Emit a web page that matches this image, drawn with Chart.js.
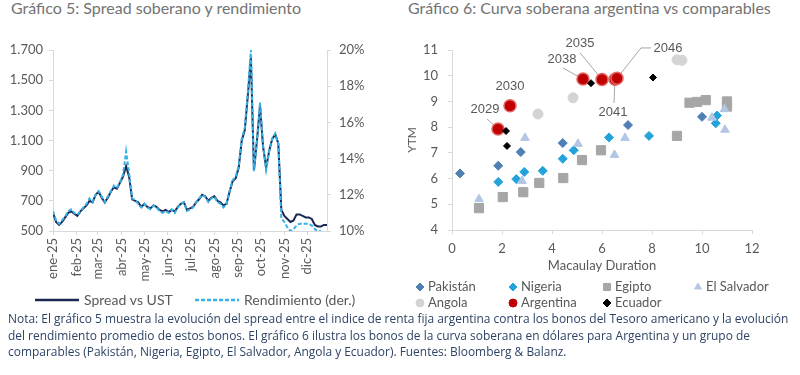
<!DOCTYPE html>
<html lang="es">
<head>
<meta charset="utf-8">
<script src="https://cdn.jsdelivr.net/npm/chart.js@4.4.1/dist/chart.umd.min.js"></script>
<style>
  html, body { margin: 0; padding: 0; background: #fff; }
  body { width: 800px; height: 375px; position: relative; overflow: hidden; font-family: Lato, sans-serif; }
  .titulo { position: absolute; top: -1px; font-size: 16px; line-height: 18px; color: #737373; white-space: nowrap; }
  #t5 { left: 11px; }
  #t6 { left: 408px; }
  canvas { position: absolute; top: 0; }
  #c5 { left: 0; }
  #c6 { left: 400px; }
  #nota { position: absolute; left: 8px; top: 311px; z-index: 2; font-family: "Open Sans", sans-serif;
          font-size: 12.5px; line-height: 16.5px; color: #2e4466; }
  #nota span { display: block; width: max-content; white-space: nowrap; transform-origin: 0 0; }
</style>
</head>
<body>
<div class="titulo" id="t5">Gráfico 5: Spread soberano y rendimiento</div>
<div class="titulo" id="t6">Gráfico 6: Curva soberana argentina vs comparables</div>
<canvas id="c5" width="400" height="320"></canvas>
<canvas id="c6" width="400" height="320"></canvas>
<div id="nota">
  <span>Nota: El gráfico 5 muestra la evolución del spread entre el indice de renta fija argentina contra los bonos del Tesoro americano y la evolución</span>
  <span>del rendimiento promedio de estos bonos. El gráfico 6 ilustra los bonos de la curva soberana en dólares para Argentina y un grupo de</span>
  <span>comparables (Pakistán, Nigeria, Egipto, El Salvador, Angola y Ecuador). Fuentes: Bloomberg &amp; Balanz.</span>
</div>
<script>
// ---- Gráfico 5: datos (día del año 2025) ----
const dias = [0, 4, 8, 12, 16, 20, 24, 28, 32, 36, 40, 44, 48, 52, 56, 60, 64, 68, 72, 76,
  80, 84, 88, 92, 96, 100, 104, 108, 112, 116, 120, 124, 128, 132, 136, 140, 144, 148, 152, 156,
  160, 164, 168, 172, 176, 180, 184, 188, 192, 196, 200, 204, 208, 212, 216, 220, 224, 228, 232, 236,
  240, 244, 248, 252, 256, 260, 264, 268, 272, 276, 280, 284, 288, 292, 296, 300, 304, 308, 312, 316,
  320, 324, 328, 332, 336, 340, 344, 348, 352, 356, 360];
const spread = [620, 560, 540, 560, 590, 620, 630, 615, 600, 630, 650, 670, 700, 690, 740, 760, 720, 690, 720, 760,
  790, 780, 820, 860, 930, 860, 710, 700, 690, 660, 680, 660, 650, 670, 660, 640, 630, 640, 625, 640,
  630, 660, 680, 690, 640, 650, 660, 690, 710, 740, 730, 700, 720, 730, 700, 690, 670, 680, 760, 830,
  850, 920, 1100, 1170, 1400, 1650, 900, 1100, 1330, 1060, 920, 1030, 1110, 1140, 1080, 640, 600, 580, 560, 570,
  610, 610, 600, 590, 590, 580, 540, 530, 530, 540, 540];
const rendimiento = [11.1, 10.6, 10.4, 10.6, 10.8, 11.1, 11.2, 11.0, 10.9, 11.1, 11.3, 11.5, 11.8, 11.6, 12.0, 12.2, 11.9, 11.6, 11.9, 12.2,
  12.5, 12.4, 12.7, 13.1, 14.4, 13.2, 11.8, 11.7, 11.5, 11.3, 11.5, 11.3, 11.2, 11.4, 11.3, 11.1, 11.0, 11.1, 11.0, 11.2,
  11.0, 11.3, 11.5, 11.6, 11.1, 11.2, 11.3, 11.6, 11.8, 12.0, 11.9, 11.6, 11.8, 11.9, 11.6, 11.5, 11.3, 11.5, 12.2, 12.8,
  13.0, 13.6, 15.1, 15.7, 17.7, 20.0, 13.3, 15.0, 17.1, 14.7, 13.4, 14.4, 15.1, 15.4, 14.8, 10.7, 10.5, 10.2, 10.0, 10.1,
  10.3, 10.4, 10.4, 10.4, 10.4, 10.3, 10.1, 10.0, 10.0, null, null];
const inicioMes = [0, 31, 59, 90, 120, 151, 181, 212, 243, 273, 304, 334];
const meses = ['ene-25', 'feb-25', 'mar-25', 'abr-25', 'may-25', 'jun-25', 'jul-25', 'ago-25', 'sep-25', 'oct-25', 'nov-25', 'dic-25'];

// ---- Gráfico 6: duration (x) e YTM (y) ----
const pakistanX = [0.32, 1.85, 2.75, 4.43, 7.04, 10.0];
const pakistanY = [6.2, 6.5, 7.03, 7.38, 8.08, 8.4];
const nigeriaX = [1.85, 2.57, 2.89, 3.63, 4.43, 4.87, 6.28, 7.88, 10.6, 10.55];
const nigeriaY = [5.87, 5.98, 6.26, 6.3, 6.77, 7.1, 7.6, 7.66, 8.45, 8.15];
const egiptoX = [1.08, 2.03, 2.85, 3.49, 4.45, 5.2, 5.96, 9.0, 9.5, 9.8, 10.15, 11.0, 11.0];
const egiptoY = [4.85, 5.28, 5.47, 5.83, 6.02, 6.72, 7.1, 7.66, 8.95, 8.98, 9.05, 9.0, 8.8];
const salvadorX = [1.08, 2.8, 2.92, 5.04, 6.5, 6.92, 10.4, 10.92, 10.9];
const salvadorY = [5.2, 5.91, 7.58, 7.35, 6.92, 7.58, 8.37, 7.9, 8.7];
const angolaX = [3.44, 4.84, 9.0, 9.2];
const angolaY = [8.51, 9.14, 10.62, 10.6];
const argentinaX = [1.84, 2.32, 5.24, 6.0, 6.52, 6.6];
const argentinaY = [7.93, 8.83, 9.87, 9.85, 9.86, 9.9];
const argentinaBono = ['2029', '2030', '2038', '2035', '2041', '2046'];
const ecuadorX = [2.16, 2.2, 5.56, 8.04];
const ecuadorY = [7.85, 7.27, 9.71, 9.93];
// posición de cada etiqueta de bono (en unidades del gráfico)
const etiquetaX = [1.32, 2.32, 4.40, 5.12, 6.44, 8.64];
const etiquetaY = [8.67, 9.60, 10.65, 11.24, 8.59, 11.08];

const gris = '#595959';
const ejes = '#d9d9d9';

function miles(v) {
  return v >= 1000 ? Math.floor(v / 1000) + '.' + String(v % 1000).padStart(3, '0') : String(v);
}
function puntos(xs, ys) {
  return xs.map((x, i) => ({ x: x, y: ys[i] }));
}

// leyenda del gráfico 5 (muestra de línea + texto)
const leyenda5Pos = [[35, 300], [195, 300]];
const leyenda5 = {
  id: 'leyenda5',
  afterDraw(chart) {
    const { ctx } = chart;
    ctx.save();
    ctx.font = '14px Lato';
    ctx.textBaseline = 'middle';
    chart.data.datasets.forEach((ds, i) => {
      const [x, y] = leyenda5Pos[i];
      ctx.strokeStyle = ds.borderColor;
      ctx.lineWidth = ds.borderWidth + 0.5;
      ctx.setLineDash(ds.borderDash || []);
      ctx.beginPath();
      ctx.moveTo(x, y);
      ctx.lineTo(x + 44, y);
      ctx.stroke();
      ctx.fillStyle = gris;
      ctx.fillText(ds.label, x + 49, y);
    });
    ctx.restore();
  },
};

new Chart(document.getElementById('c5'), {
  type: 'line',
  data: {
    datasets: [
      {
        label: 'Spread vs UST',
        data: puntos(dias, spread),
        yAxisID: 'y',
        borderColor: '#1c2653',
        borderWidth: 2,
        pointRadius: 0,
        tension: 0,
        order: 1,
      },
      {
        label: 'Rendimiento (der.)',
        data: puntos(dias, rendimiento),
        yAxisID: 'y2',
        borderColor: '#35b3e6',
        borderWidth: 2,
        borderDash: [4, 2],
        pointRadius: 0,
        tension: 0,
        order: 0,
      },
    ],
  },
  plugins: [leyenda5],
  options: {
    responsive: false,
    animation: false,
    layout: { padding: { top: 50, left: 0, right: 0, bottom: 37 } },
    plugins: { legend: { display: false }, tooltip: { enabled: false } },
    scales: {
      x: {
        type: 'linear',
        min: 0,
        max: 360,
        afterBuildTicks: (s) => { s.ticks = inicioMes.map((v) => ({ value: v })); },
        afterFit: (s) => { s.height = 52; },
        ticks: {
          autoSkip: false,
          minRotation: 90,
          maxRotation: 90,
          padding: 3,
          color: gris,
          font: { family: 'Lato', size: 13 },
          callback: (v) => meses[inicioMes.indexOf(v)],
        },
        grid: { drawOnChartArea: false, tickLength: 4, color: ejes },
        border: { color: ejes },
      },
      y: {
        position: 'left',
        min: 500,
        max: 1700,
        afterFit: (s) => { s.width = 53; },
        ticks: { stepSize: 200, padding: 6, color: gris, font: { family: 'Lato', size: 13 }, callback: (v) => miles(v) },
        grid: { drawOnChartArea: false, tickLength: 4, color: ejes },
        border: { color: ejes },
      },
      y2: {
        position: 'right',
        min: 10,
        max: 20,
        afterFit: (s) => { s.width = 73; },
        ticks: { stepSize: 2, padding: 8, color: gris, font: { family: 'Lato', size: 13 }, callback: (v) => v + '%' },
        grid: { drawOnChartArea: false, tickLength: 4, color: ejes },
        border: { color: ejes },
      },
    },
  },
});

// lineas guía de las etiquetas (desplazamientos en px desde la etiqueta)
const guias = {
  '2029': [[2, 9]],
  '2038': [[1, 9]],
  '2035': [[0, 9]],
  '2041': [[1, -9]],
  '2046': [[-17, 0], [-27, 0]],
};

const leyenda6 = [
  { texto: 'Pakistán', ds: 0, col: 0, fila: 0 },
  { texto: 'Nigeria', ds: 1, col: 1, fila: 0 },
  { texto: 'Egipto', ds: 2, col: 2, fila: 0 },
  { texto: 'El Salvador', ds: 3, col: 3, fila: 0 },
  { texto: 'Angola', ds: 4, col: 0, fila: 1 },
  { texto: 'Argentina', ds: 5, col: 1, fila: 1 },
  { texto: 'Ecuador', ds: 6, col: 2, fila: 1 },
];
const leyendaCol = [20, 113, 207, 298];
const leyendaFila = [287, 303];

const etiquetasBonos = {
  id: 'etiquetasBonos',
  beforeDatasetsDraw(chart) {
    const { ctx, scales } = chart;
    ctx.save();
    ctx.strokeStyle = '#a6a6a6';
    ctx.lineWidth = 1;
    argentinaBono.forEach((b, i) => {
      if (!guias[b]) return;
      const lx = scales.x.getPixelForValue(etiquetaX[i]);
      const ly = scales.y.getPixelForValue(etiquetaY[i]);
      ctx.beginPath();
      guias[b].forEach(([dx, dy], k) => {
        if (k === 0) ctx.moveTo(lx + dx, ly + dy);
        else ctx.lineTo(lx + dx, ly + dy);
      });
      ctx.lineTo(scales.x.getPixelForValue(argentinaX[i]), scales.y.getPixelForValue(argentinaY[i]));
      ctx.stroke();
    });
    ctx.restore();
  },
  afterDatasetsDraw(chart) {
    const { ctx, scales } = chart;
    ctx.save();
    ctx.font = '13px Arial, "Liberation Sans"';
    ctx.fillStyle = gris;
    ctx.textAlign = 'center';
    ctx.textBaseline = 'middle';
    argentinaBono.forEach((b, i) => {
      ctx.fillText(b, scales.x.getPixelForValue(etiquetaX[i]), scales.y.getPixelForValue(etiquetaY[i]));
    });
    ctx.restore();
  },
  afterDraw(chart) {
    const { ctx } = chart;
    ctx.save();
    ctx.font = '13px Lato';
    ctx.textBaseline = 'middle';
    leyenda6.forEach((it) => {
      const ds = chart.data.datasets[it.ds];
      const x = leyendaCol[it.col];
      const y = leyendaFila[it.fila];
      ctx.fillStyle = ds.backgroundColor;
      ctx.strokeStyle = ds.backgroundColor;
      Chart.helpers.drawPoint(ctx, { pointStyle: ds.pointStyle, radius: ds.pointStyle === 'rect' ? 5 : 4, rotation: 0, borderWidth: 1 }, x, y);
      ctx.fillStyle = gris;
      ctx.fillText(it.texto, x + 8, y);
    });
    ctx.restore();
  },
};

function serie(label, xs, ys, estilo, radio, color, orden, borde, anchoBorde) {
  return {
    label: label,
    data: puntos(xs, ys),
    pointStyle: estilo,
    pointRadius: radio,
    backgroundColor: color,
    borderColor: borde || color,
    borderWidth: anchoBorde || 1,
    order: orden,
  };
}

new Chart(document.getElementById('c6'), {
  type: 'scatter',
  data: {
    datasets: [
      serie('Pakistán', pakistanX, pakistanY, 'rectRot', 4.5, '#4f7fb3', 5),
      serie('Nigeria', nigeriaX, nigeriaY, 'rectRot', 4.5, '#22a3d9', 4),
      serie('Egipto', egiptoX, egiptoY, 'rect', 6.5, '#a6a6a6', 6),
      serie('El Salvador', salvadorX, salvadorY, 'triangle', 5, '#b4c6e4', 3),
      serie('Angola', angolaX, angolaY, 'circle', 5, '#d4d4d4', 7),
      serie('Argentina', argentinaX, argentinaY, 'circle', 6, '#c00000', 1, '#e06666', 1.5),
      serie('Ecuador', ecuadorX, ecuadorY, 'rectRot', 3.5, '#000000', 0),
    ],
  },
  plugins: [etiquetasBonos],
  options: {
    responsive: false,
    animation: false,
    layout: { padding: { top: 50, left: 0, right: 48, bottom: 46 } },
    plugins: { legend: { display: false }, tooltip: { enabled: false } },
    scales: {
      x: {
        min: 0,
        max: 12,
        afterFit: (s) => { s.height = 44; },
        ticks: { stepSize: 2, padding: 7, color: gris, font: { family: 'Lato', size: 13 } },
        grid: { drawOnChartArea: false, tickLength: 4, color: ejes },
        border: { color: ejes },
        title: { display: true, text: 'Macaulay Duration', color: gris, font: { family: 'Lato', size: 13 }, padding: { top: 0, bottom: 0 } },
      },
      y: {
        min: 4,
        max: 11,
        afterFit: (s) => { s.width = 52; },
        ticks: { stepSize: 1, padding: 10, color: gris, font: { family: 'Lato', size: 13 } },
        grid: { drawOnChartArea: false, tickLength: 4, color: ejes },
        border: { color: ejes },
        title: { display: true, text: 'YTM', color: gris, font: { family: 'Lato', size: 12 }, padding: { top: 5, bottom: 0 } },
      },
    },
  },
});

// ajustar el ancho de la nota al de la imagen original
const lineas = document.querySelectorAll('#nota span');
const escala = 780 / lineas[0].offsetWidth;
lineas.forEach((l) => { l.style.transform = 'scaleX(' + escala + ')'; });
</script>
</body>
</html>
